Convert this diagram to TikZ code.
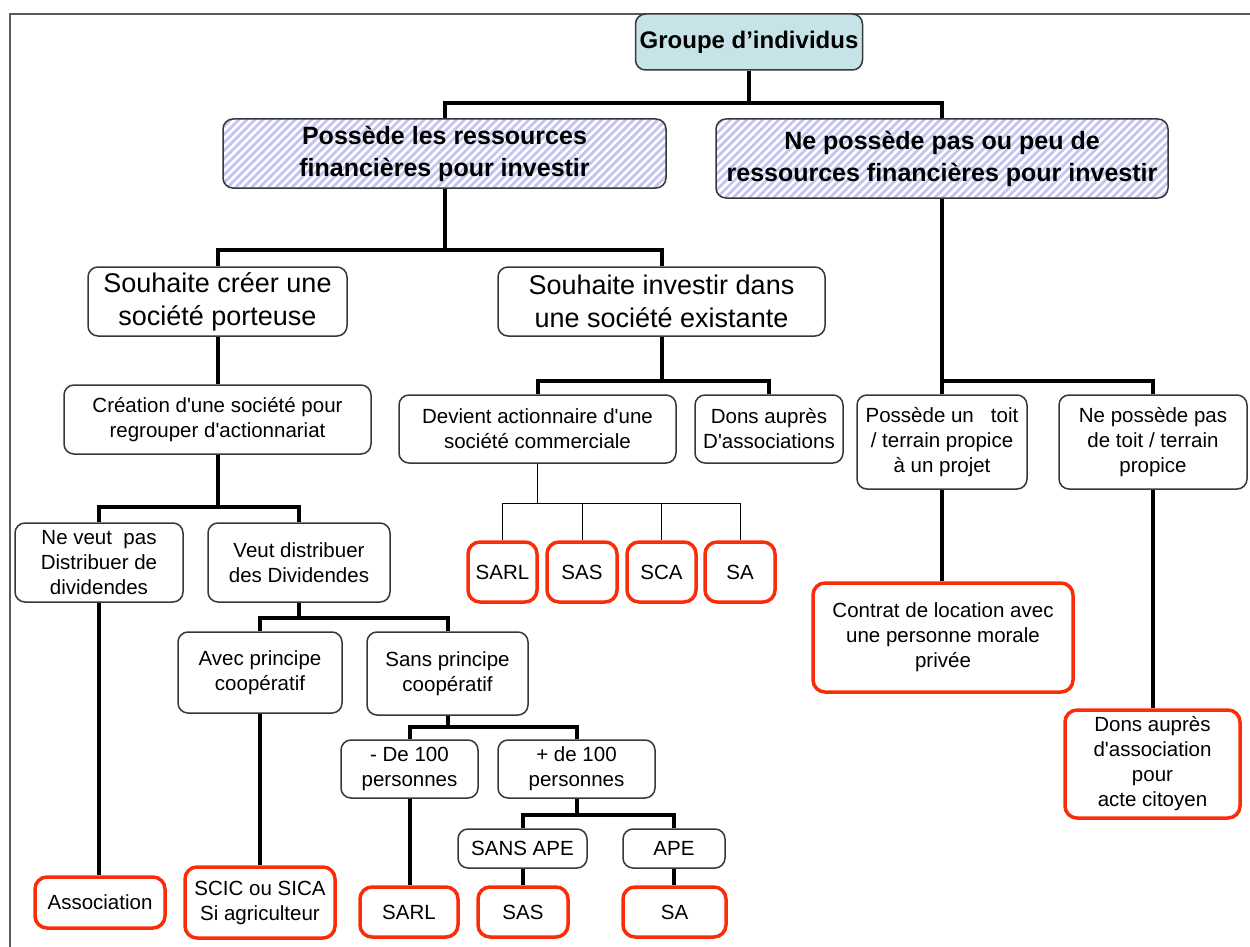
\documentclass[tikz,border=0pt]{standalone}
\usepackage{fontspec}
\setmainfont{Liberation Sans}[Ligatures=TeXOff]
\usetikzlibrary{patterns.meta,backgrounds}
\definecolor{boxgray}{RGB}{55,55,55}
\definecolor{redb}{RGB}{250,45,10}
\definecolor{grpfill}{RGB}{198,228,232}
\definecolor{hatchc}{RGB}{196,196,240}
\definecolor{framec}{RGB}{90,90,90}
\begin{document}
\begin{tikzpicture}[x=1pt,y=-1pt,
 base/.style={draw=boxgray,line width=1.5pt,fill=white,rounded corners=10pt,align=center,inner sep=0pt,font=\fontsize{20.5}{25}\selectfont},
 redbox/.style={base,draw=redb,line width=3.5pt,rounded corners=12pt},
 bigbox/.style={base,font=\fontsize{27}{33}\selectfont},
 hatchbox/.style={base,preaction={fill=white},pattern={Lines[angle=45,distance=5.7pt,line width=2.8pt]},pattern color=hatchc,font=\fontsize{25}{32}\selectfont\bfseries},
 conn/.style={line width=4pt,black},
 thinconn/.style={line width=1pt,black}]
\useasboundingbox (0,0) rectangle (1250,947);
\draw[framec,line width=1.5pt] (10,947) -- (10,14) -- (1250,14);

\node[base,fill=grpfill,minimum width=227pt,minimum height=56pt,font=\fontsize{24}{28}\selectfont\bfseries] (grp) at (749,42) {Groupe d’individus};
\node[hatchbox,minimum width=443pt,minimum height=69pt] (pos) at (444.5,153.5) {Possède les ressources\\financières pour investir};
\node[hatchbox,minimum width=452pt,minimum height=79pt] (npos) at (942,158.5) {Ne possède pas ou peu de\\ressources financières pour investir};

\node[bigbox,minimum width=259pt,minimum height=69pt] (sc) at (217.5,301.5) {Souhaite créer une\\société porteuse};
\node[bigbox,minimum width=327pt,minimum height=69pt] (si) at (661.5,301.5) {Souhaite investir dans\\une société existante};

\node[base,minimum width=307pt,minimum height=69pt] (crea) at (217.5,419.5) {Création d'une société pour\\regrouper d'actionnariat};
\node[base,minimum width=168pt,minimum height=79pt] (nv) at (99,562.5) {Ne veut\ \ pas\\Distribuer de\\dividendes};
\node[base,minimum width=182pt,minimum height=79pt] (vd) at (299,562.5) {Veut distribuer\\des Dividendes};
\node[base,minimum width=164pt,minimum height=81pt] (avec) at (260,672.5) {Avec principe\\coopératif};
\node[base,minimum width=161pt,minimum height=83pt] (sans) at (447.5,673.5) {Sans principe\\coopératif};
\node[base,minimum width=137pt,minimum height=58pt] (m100) at (409.5,769) {- De 100\\personnes};
\node[base,minimum width=157pt,minimum height=58pt] (p100) at (576.5,769) {+ de 100\\personnes};
\node[base,minimum width=129pt,minimum height=39pt] (sansape) at (522.5,848.5) {SANS APE};
\node[base,minimum width=102pt,minimum height=39pt] (ape) at (674,848.5) {APE};

\node[redbox,minimum width=130pt,minimum height=51pt] (assoc) at (100,902.5) {Association};
\node[redbox,minimum width=150pt,minimum height=71pt] (scic) at (260,902.5) {SCIC ou SICA\\Si agriculteur};
\node[redbox,minimum width=98pt,minimum height=50pt] (sarl2) at (409,912) {SARL};
\node[redbox,minimum width=90pt,minimum height=50pt] (sas2) at (523,912) {SAS};
\node[redbox,minimum width=103pt,minimum height=50pt] (sa2) at (674.5,912) {SA};

\node[base,minimum width=277pt,minimum height=68pt] (dev) at (537.5,429) {Devient actionnaire d'une\\société commerciale};
\node[base,minimum width=148pt,minimum height=68pt] (dons) at (769,429) {Dons auprès\\D'associations};
\node[redbox,minimum width=69pt,minimum height=60pt] (sarl1) at (502.5,572) {SARL};
\node[redbox,minimum width=70pt,minimum height=60pt] (sas1) at (582,572) {SAS};
\node[redbox,minimum width=69pt,minimum height=60pt] (sca1) at (661.5,572) {SCA};
\node[redbox,minimum width=70pt,minimum height=60pt] (sa1) at (740,572) {SA};

\node[base,minimum width=170pt,minimum height=94pt] (toit) at (942,442) {Possède un\ \ \ toit\\/ terrain propice\\à un projet};
\node[base,minimum width=188pt,minimum height=94pt] (ntoit) at (1153,442) {Ne possède pas\\de toit / terrain\\propice};
\node[redbox,minimum width=260pt,minimum height=109pt] (contrat) at (943,637.5) {Contrat de location avec\\une personne morale\\privée};
\node[redbox,minimum width=175pt,minimum height=108pt] (donsc) at (1152.5,764) {Dons auprès\\d'association\\pour\\acte citoyen};

\coordinate (b1) at (0,103);
\coordinate (b2) at (0,250);
\coordinate (b3) at (0,507);
\coordinate (b4) at (0,618);
\coordinate (b5) at (0,727);
\coordinate (b6) at (0,815);
\coordinate (b7) at (0,381);
\coordinate (b8) at (0,503);

\begin{scope}[on background layer]
\draw[conn] (grp.south) -- (grp.south |- b1);
\draw[conn] (pos.north) -- (pos.north |- b1) -- (npos.north |- b1) -- (npos.north);
\draw[conn] (pos.south) -- (pos.south |- b2);
\draw[conn] (sc.north) -- (sc.north |- b2) -- (si.north |- b2) -- (si.north);
\draw[conn] (sc.south) -- (crea.north);
\draw[conn] (crea.south) -- (crea.south |- b3);
\draw[conn] (nv.north) -- (nv.north |- b3) -- (vd.north |- b3) -- (vd.north);
\draw[conn] (nv.south) -- (nv.south |- assoc.north);
\draw[conn] (vd.south) -- (vd.south |- b4);
\draw[conn] (avec.north) -- (avec.north |- b4) -- (sans.north |- b4) -- (sans.north);
\draw[conn] (avec.south) -- (scic.north);
\draw[conn] (sans.south) -- (sans.south |- b5);
\draw[conn] (m100.north) -- (m100.north |- b5) -- (p100.north |- b5) -- (p100.north);
\draw[conn] (m100.south) -- (m100.south |- sarl2.north);
\draw[conn] (p100.south) -- (p100.south |- b6);
\draw[conn] (sansape.north) -- (sansape.north |- b6) -- (ape.north |- b6) -- (ape.north);
\draw[conn] (sansape.south) -- (sansape.south |- sas2.north);
\draw[conn] (ape.south) -- (ape.south |- sa2.north);
\draw[conn] (si.south) -- (si.south |- b7);
\draw[conn] (dev.north) -- (dev.north |- b7) -- (dons.north |- b7) -- (dons.north);
\draw[thinconn] (dev.south) -- (dev.south |- b8);
\draw[thinconn] (sarl1.north) -- (sarl1.north |- b8) -- (sa1.north |- b8) -- (sa1.north);
\draw[thinconn] (sas1.north) -- (sas1.north |- b8);
\draw[thinconn] (sca1.north) -- (sca1.north |- b8);
\draw[conn] (npos.south) -- (npos.south |- b7);
\draw[conn] (toit.north) -- (toit.north |- b7) -- (ntoit.north |- b7) -- (ntoit.north);
\draw[conn] (toit.south) -- (toit.south |- contrat.north);
\draw[conn] (ntoit.south) -- (ntoit.south |- donsc.north);
\end{scope}
\end{tikzpicture}
\end{document}
